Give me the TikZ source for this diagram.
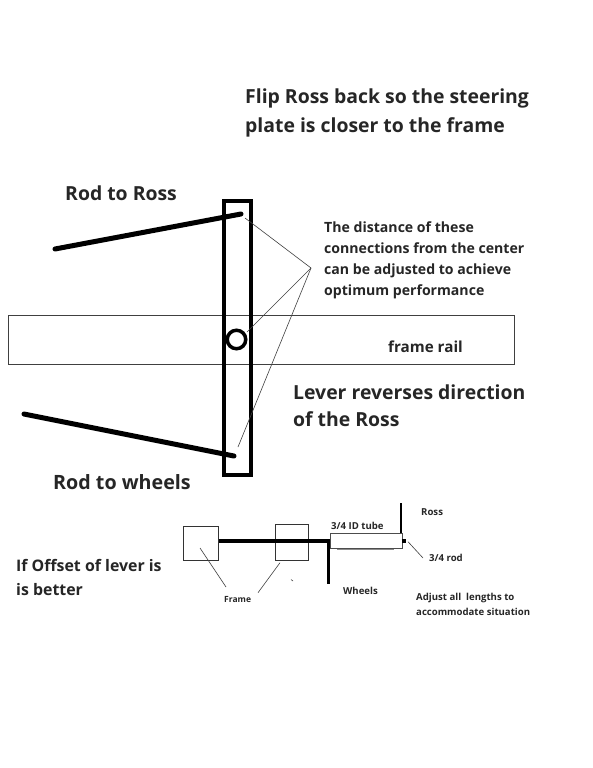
\documentclass[tikz,border=0pt]{standalone}
\usepackage{fontspec}
\setmainfont{Open Sans}
\tikzset{
 lbl/.style={anchor=base west,inner sep=0pt,font=\bfseries,text=black!85},
 big/.style={lbl,font=\fontsize{19.4}{24}\bfseries},
 mid/.style={lbl,font=\fontsize{14.1}{20}\bfseries},
 small/.style={lbl,font=\fontsize{9.6}{14}\bfseries},
 tiny/.style={lbl,font=\fontsize{8.5}{14}\bfseries},
 thin line/.style={draw=black!75,line width=0.6pt},
 rod/.style={draw=black,line width=5pt,line cap=round},
 frame box/.style={draw=black!80,line width=0.7pt,fill=none,inner sep=0pt},
}
\begin{document}
\begin{tikzpicture}[x=1pt,y=-1pt]
\useasboundingbox (0,0) rectangle (592,768);
\fill[white] (0,0) rectangle (592,768);
% frame rail
\node[draw=black!75,line width=0.6pt,minimum width=505.5pt,minimum height=49pt,inner sep=0pt,anchor=north west] (rail) at (8,315) {};
% lever
\node[draw=black,line width=4pt,minimum width=27pt,minimum height=274pt,inner sep=0pt,anchor=north west] (lever) at (222,199) {};
\node[draw=black,line width=3.5pt,circle,minimum size=18.5pt,inner sep=0pt] (pivot) at (236.5,339.5) {};
% rods
\coordinate (rr1) at (55,249);
\coordinate (rr2) at (241,214);
\coordinate (rw1) at (24,414);
\coordinate (rw2) at (234,456);
\draw[rod] (rr1) -- (rr2);
\draw[rod] (rw1) -- (rw2);
% leaders
\coordinate (hub) at (311,268);
\coordinate (l1) at (245,218);
\coordinate (l2) at (247,332);
\coordinate (l3) at (238,447);
\draw[thin line] (l1) -- (hub) -- (l2);
\draw[thin line] (hub) -- (l3);
% texts
\node[big] (t1) at (245,103) {Flip Ross back so the steering};
\node[big] (t2) at (245,132) {plate is closer to the frame};
\node[big] (t3) at (65,200) {Rod to Ross};
\node[mid] (t4) at (324,232) {The distance of these};
\node[mid] (t5) at (324,253) {connections from the center};
\node[mid] (t6) at (324,274) {can be adjusted to achieve};
\node[mid] (t7) at (324,295) {optimum performance};
\node[mid,font=\fontsize{15.2}{20}\bfseries] (t8) at (388,352) {frame rail};
\node[big] (t9) at (293,399) {Lever reverses direction};
\node[big] (t10) at (293,426) {of the Ross};
\node[big,font=\fontsize{19.7}{24}\bfseries] (t11) at (53,489) {Rod to wheels};
\node[lbl,font=\fontsize{15.9}{20}\bfseries] (t12) at (16,571) {If Offset of lever is};
\node[lbl,font=\fontsize{15.9}{20}\bfseries] (t13) at (16,595) {is better};
% lower detail
\node[frame box,minimum width=35.5pt,minimum height=34.5pt,anchor=north west] (f1) at (182.5,525.5) {};
\node[frame box,minimum width=33pt,minimum height=35.5pt,anchor=north west] (f2) at (274.5,524) {};
\coordinate (shaftL) at (218.5,540.7);
\coordinate (shaftR) at (329.5,540.7);
\coordinate (ve1) at (328.3,541);
\coordinate (ve2) at (328.3,583.5);
\coordinate (ve3) at (401,503);
\coordinate (ve4) at (401,533);
\coordinate (end1) at (401.5,541);
\coordinate (end2) at (406,541);
\coordinate (under1) at (337,549.6);
\coordinate (under2) at (394,549.6);
\draw[draw=black,line width=2.5pt] (ve1) -- (ve2);
\draw[draw=black,line width=2.2pt] (ve3) -- (ve4);
\draw[draw=black,line width=4pt] (shaftL) -- (shaftR);
\node[draw=black!70,line width=0.8pt,minimum width=71.5pt,minimum height=15.5pt,inner sep=0pt,anchor=north west] (tube) at (330,532.5) {};
\draw[draw=black!45,line width=1.2pt] (under1) -- (under2);
\draw[draw=black,line width=3.5pt] (end1) -- (end2);
\node[small] (a1) at (331,529) {3/4 ID tube};
\node[small] (a2) at (421,515) {Ross};
\node[small] (a3) at (429,561) {3/4 rod};
\node[small] (a4) at (343,594) {Wheels};
\node[tiny] (a5) at (224,602) {Frame};
\node[small] (a6) at (416,600) {Adjust all\ \ lengths to};
\node[small] (a7) at (416,615) {accommodate situation};
\coordinate (s1) at (200,548);
\coordinate (s2) at (226,587);
\coordinate (s3) at (280,562.7);
\coordinate (s4) at (258,592.7);
\draw[thin line] (s1) -- (s2);
\draw[thin line] (s3) -- (s4);
\coordinate (s5) at (408,541.7);
\coordinate (s6) at (423,558);
\draw[thin line] (s5) -- (s6);
\coordinate (s7) at (291,579.5);
\coordinate (s8) at (293,581);
\draw[thin line] (s7) -- (s8);
\end{tikzpicture}
\end{document}
